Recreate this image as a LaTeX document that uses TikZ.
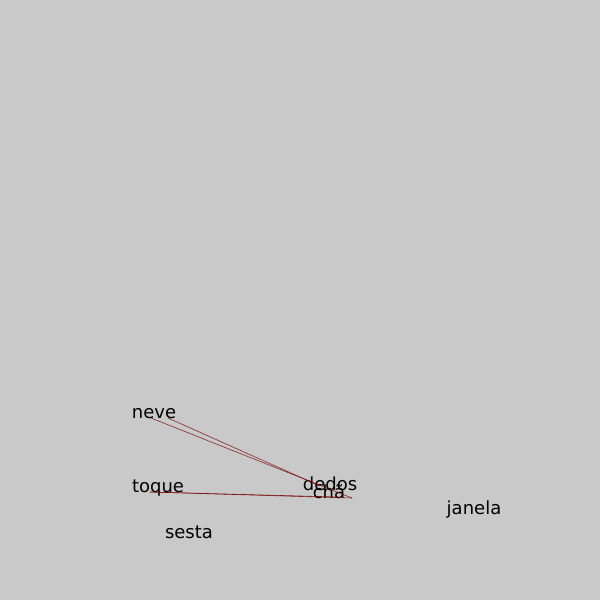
\documentclass[tikz,border=0pt]{standalone}
\usepackage{fontspec}
\setmainfont{DejaVu Sans}
\begin{document}
\begin{tikzpicture}[x=1pt,y=-1pt,
  word/.style={inner sep=0pt,anchor=base,font=\fontsize{18}{20}\selectfont,text=black},
  edge/.style={draw=red!45!black,line width=0.6pt,draw opacity=0.8}]
\fill[fill={rgb,255:red,201;green,201;blue,201}] (0,0) rectangle (600,600);
\useasboundingbox (0,0) rectangle (600,600);
\node[word] (neve) at (154,418) {neve};
\node[word] (toque) at (158,492) {toque};
\node[word] (dedos) at (330,490) {dedos};
\node[word] (cha) at (329,498) {chã};
\node[word] (janela) at (474,514) {janela};
\node[word] (sesta) at (189,538) {sesta};
\coordinate (nA) at (151,418);
\coordinate (nB) at (168,418);
\coordinate (tA) at (150,492);
\coordinate (dE) at (320,486);
\coordinate (cE) at (352,498);
\coordinate (cF) at (338,497);
\draw[edge] (nA) -- (cE);
\draw[edge] (nB) -- (dE);
\draw[edge] (tA) -- (cE);
\draw[edge] (tA) -- (cF);
\end{tikzpicture}
\end{document}
